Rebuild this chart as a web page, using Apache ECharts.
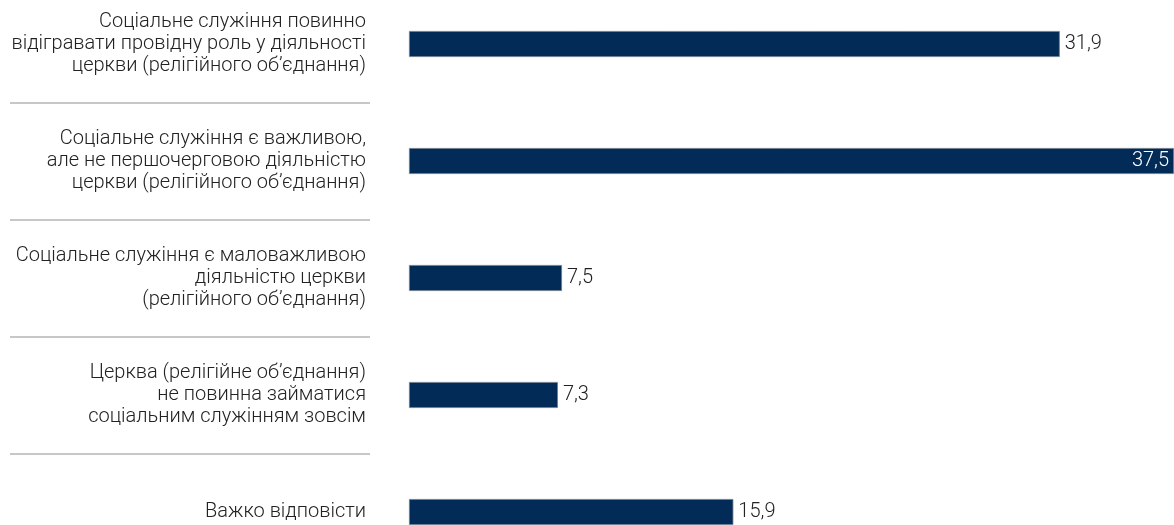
<!DOCTYPE html>
<html><head><meta charset="utf-8">
<script src="https://cdn.jsdelivr.net/npm/echarts@6/dist/echarts.min.js"></script>
<style>html,body{margin:0;padding:0;background:#fff}#c{width:1174px;height:525px}</style>
</head><body><div id="c"></div>
<script>
const categories = [
  'Соціальне служіння повинно\nвідігравати провідну роль у діяльності\nцеркви (релігійного об’єднання)',
  'Соціальне служіння є важливою,\nале не першочерговою діяльністю\nцеркви (релігійного об’єднання)',
  'Соціальне служіння є маловажливою\nдіяльністю церкви\n(релігійного об’єднання)',
  'Церква (релігійне об’єднання)\nне повинна займатися\nсоціальним служінням зовсім',
  'Важко відповісти'
];
const values = [31.9, 37.5, 7.5, 7.3, 15.9];
const insideIdx = [1];

const chart = echarts.init(document.getElementById('c'));
const fmt = v => String(v).replace('.', ',');
chart.setOption({
  animation: false,
  grid: [
    {left: 409, right: 0, top: -14.5, height: 585, outerBoundsMode: 'none', containLabel: false},
    {left: 10, width: 360, top: -14.5, height: 585, outerBoundsMode: 'none', containLabel: false}
  ],
  xAxis: [
    {gridIndex: 0, type: 'value', min: 0, max: 37.5, show: false},
    {gridIndex: 1, type: 'value', min: 0, max: 1, show: false}
  ],
  yAxis: [
    {gridIndex: 0, type: 'category', inverse: true, data: categories,
     axisLine: {show: false}, axisTick: {show: false}, splitLine: {show: false},
     axisLabel: {margin: 43, align: 'right', fontFamily: 'Roboto', fontWeight: 300, fontSize: 20, lineHeight: 22, color: '#222222', padding: [4, 0, 0, 0]}},
    {gridIndex: 1, type: 'category', inverse: true, data: categories,
     axisLine: {show: false}, axisTick: {show: false}, axisLabel: {show: false},
     splitLine: {show: true, lineStyle: {color: '#b4b4b4', width: 1.5}}}
  ],
  series: [{
    type: 'bar', xAxisIndex: 0, yAxisIndex: 0, barWidth: 26,
    data: values.map((v, i) => ({
      value: v,
      label: insideIdx.includes(i)
        ? {position: 'insideRight', color: '#ffffff', distance: 5}
        : {position: 'right', color: '#222222', distance: 5}
    })),
    itemStyle: {color: '#022b57', borderColor: '#6f7b8c', borderWidth: 0.8},
    label: {show: true, fontFamily: 'Roboto', fontWeight: 300, fontSize: 20, formatter: p => fmt(p.value)}
  }]
});
</script></body></html>
